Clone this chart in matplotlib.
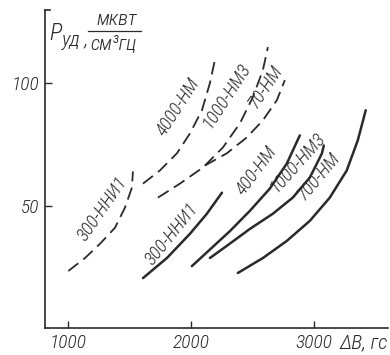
import matplotlib
matplotlib.use("Agg")
import matplotlib.pyplot as plt

# Curves: delta B (gs) and P (mkW / cm^3 Hz)
dashed_300_x = [1000, 1136, 1258, 1381, 1462, 1519, 1527]
dashed_300_y = [23.3, 28.6, 34.4, 41.0, 49.2, 57.4, 64.0]
dashed_4000_x = [1609, 1747, 1886, 1992, 2090, 2155, 2196]
dashed_4000_y = [59.0, 64.4, 71.4, 79.5, 89.0, 100.1, 109.6]
dashed_1000_x = [1731, 1910, 2098, 2261, 2399, 2505, 2587, 2628]
dashed_1000_y = [53.3, 59.0, 65.6, 73.8, 83.6, 94.3, 105.4, 114.8]
dashed_70_x = [2114, 2293, 2456, 2587, 2701, 2766]
dashed_70_y = [66.4, 71.4, 77.9, 84.9, 93.1, 101.3]

solid_300_x = [1609, 1804, 1992, 2130, 2253]
solid_300_y = [20.4, 28.6, 38.5, 46.7, 55.3]
solid_400_x = [2008, 2318, 2481, 2644, 2782, 2888]
solid_400_y = [25.3, 39.6, 47.9, 57.0, 67.2, 78.7]
solid_1000_x = [2155, 2318, 2481, 2668, 2831, 2970, 3068, 3084]
solid_1000_y = [28.6, 34.5, 40.5, 46.7, 53.3, 61.5, 71.3, 74.6]
solid_700_x = [2383, 2587, 2782, 2970, 3133, 3271, 3361, 3426]
solid_700_y = [22.5, 28.6, 35.6, 43.8, 53.3, 64.4, 76.7, 89.0]

labels = ["300-ННИ1", "4000-НМ", "1000-НМ3", "70-НМ",
          "300-ННИ1", "400-НМ", "1000-НМ3", "700-НМ"]
label_x = [1283, 1894, 2290, 2612, 1845, 2538, 2870, 3045]
label_y = [48.7, 90.3, 95.0, 98.5, 38.5, 64.4, 67.8, 62.0]
label_rot = [55, 57, 57, 56, 51, 53, 48, 50]

xticks = [1000, 2000, 3000]
yticks = [50, 100]

fam = ["Roboto Condensed", "DejaVu Sans"]
ink = "#2a2a2a"
txt = dict(family=fam, style="italic", weight="light", color=ink)

fig = plt.figure(figsize=(3.9, 3.55), dpi=100)
ax = fig.add_axes([0.1154, 0.076, 0.879, 0.896])

dash = (0, (7, 3.5))
for xs, ys in [(dashed_300_x, dashed_300_y), (dashed_4000_x, dashed_4000_y),
               (dashed_1000_x, dashed_1000_y), (dashed_70_x, dashed_70_y)]:
    ax.plot(xs, ys, color=ink, lw=1.3, linestyle=dash, solid_joinstyle="round")
for xs, ys in [(solid_300_x, solid_300_y), (solid_400_x, solid_400_y),
               (solid_1000_x, solid_1000_y), (solid_700_x, solid_700_y)]:
    ax.plot(xs, ys, color=ink, lw=1.8, solid_capstyle="round", solid_joinstyle="round")

for t, x, y, r in zip(labels, label_x, label_y, label_rot):
    ax.text(x, y, t, rotation=r, ha="center", va="center", fontsize=13.5,
            rotation_mode="anchor", **txt)

ax.set_xlim(810, 3606)
ax.set_ylim(0, 130)
ax.set_xticks(xticks)
ax.set_yticks(yticks)
ax.tick_params(direction="in", length=5, width=1, colors=ink, labelsize=14, pad=4)
for lab in ax.get_xticklabels() + ax.get_yticklabels():
    lab.set_family(fam)
    lab.set_style("italic")
    lab.set_weight("light")
ax.spines["top"].set_visible(False)
ax.spines["right"].set_visible(False)
ax.spines["left"].set_color(ink)
ax.spines["bottom"].set_color(ink)
ax.spines["left"].set_linewidth(1.2)
ax.spines["bottom"].set_linewidth(1.2)

# bracket at top of y axis
ax.plot([0, 0.015], [1, 1], transform=ax.transAxes, color=ink, lw=1.2, clip_on=False)

# y axis title: P_уд, мквт / см³гц
ax.text(0.012, 0.925, "P", transform=ax.transAxes, fontsize=17, va="center", **txt)
ax.text(0.05, 0.905, "уд ,", transform=ax.transAxes, fontsize=15, va="center", **txt)
ax.text(0.21, 0.97, "мквт", transform=ax.transAxes, fontsize=15, ha="center",
        va="center", **txt)
ax.plot([0.125, 0.28], [0.935, 0.935], transform=ax.transAxes, color=ink, lw=0.9,
        clip_on=False)
ax.text(0.2, 0.893, "см³гц", transform=ax.transAxes, fontsize=15, ha="center",
        va="center", **txt)

# x axis title
ax.text(1.0, -0.047, "ΔB, гс", transform=ax.transAxes, fontsize=15, ha="right",
        va="center", **txt)

fig.savefig("out.png", dpi=100)
